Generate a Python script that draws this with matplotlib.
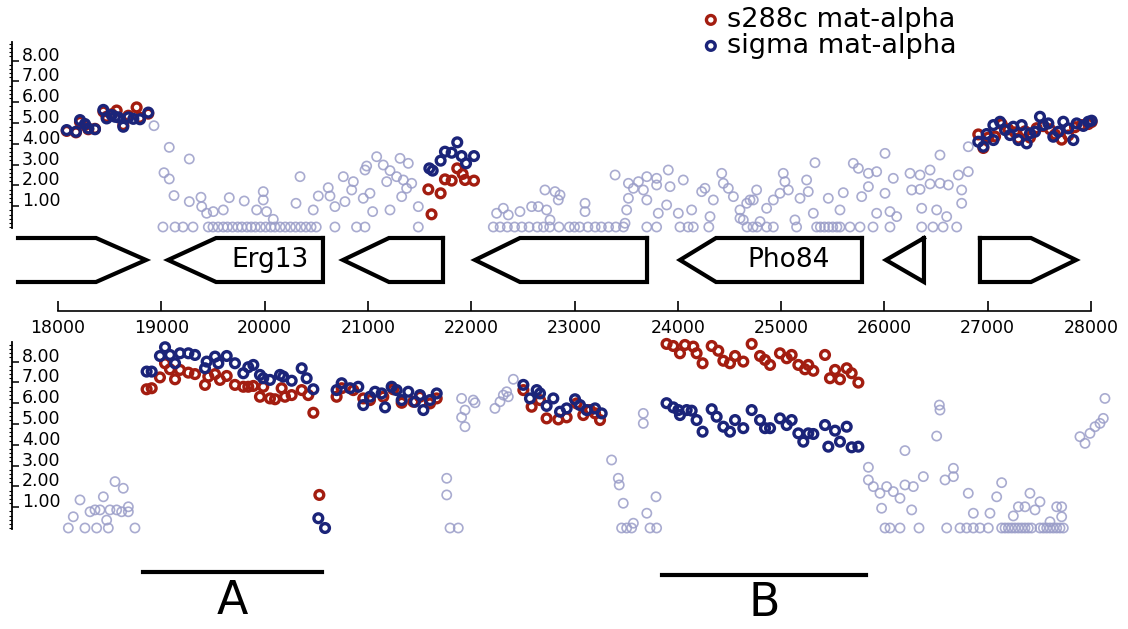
import numpy as np
import matplotlib
matplotlib.use('Agg')
import matplotlib.pyplot as plt
from matplotlib.ticker import FormatStrFormatter, MultipleLocator

# ---------------------------------------------------------------
# data (genome position, log signal)
# ---------------------------------------------------------------
top_grey_x = [18929, 19077, 19271, 19026, 19077, 19123, 19271, 19384, 19391, 19439,
              19503, 19600, 19658, 19803, 19923, 19987, 19987, 20019, 20084, 20304,
              20343, 20471, 20520, 20616, 20633, 20681, 20778, 20762, 20843, 20859,
              20955, 20972, 20988, 21020, 21046, 21085,
              21149, 21214, 21182, 21278, 21311, 21391, 21343, 21375, 21424, 21327, 21214, 21488,
              22714, 22811, 22860, 22843, 22246, 22311, 22359, 22472, 22585, 22650,
              22730, 22763, 23102, 23102, 23393, 23522, 23570, 23619, 23667, 23700,
              23522, 23700, 23795, 23908, 23925, 23795, 24053, 23505, 23489, 23892,
              23811, 24005, 24134, 24231, 24263, 24344, 24425, 24441, 24489, 24538,
              24602, 24602, 24699, 24312,
              26812, 26538, 26006, 25328, 25699, 25748, 25845, 25925, 26086, 26248,
              26345, 26442, 26264, 26345, 26442, 26538, 26619, 26716, 26812, 26748,
              26748, 26361, 26506, 26603, 26006, 25925, 26054, 26119, 25845, 25780,
              25602, 25570, 25457, 25312, 25247, 25263, 25183, 25134, 25021, 25037,
              25070, 24989, 24925, 24860, 24763, 24731, 24796, 24667, 24634]
top_grey_y = [4.87, 3.83, 3.27, 2.61, 2.31, 1.51, 1.22, 1.43, 0.98, 0.66,
              0.74, 0.82, 1.41, 1.25, 0.82, 1.70, 1.30, 0.74, 0.37, 1.14,
              2.42, 0.82, 1.49, 1.89, 1.49, 0.98, 1.22, 2.42, 1.78, 2.18,
              1.38, 2.74, 2.93, 1.62, 0.74, 3.38,
              2.98, 2.71, 2.18, 2.42, 3.30, 3.06, 2.26, 1.86, 2.10, 1.46, 0.82, 0.98,
              1.78, 1.70, 1.54, 1.30, 0.66, 0.90, 0.58, 0.74, 0.98, 0.98,
              0.82, 0.34, 1.14, 0.74, 2.50, 2.10, 1.86, 2.18, 1.78, 1.30,
              1.38, 2.42, 2.34, 2.74, 1.94, 2.02, 2.26, 0.82, 0.18, 1.06,
              0.66, 0.66, 0.82, 1.70, 1.86, 1.30, 2.58, 2.10, 1.86, 1.46,
              0.82, 0.42, 1.30, 0.50,
              3.86, 3.46, 3.54, 3.09, 3.06, 2.82, 2.58, 2.66, 2.34, 2.58,
              2.50, 2.74, 1.78, 1.81, 2.07, 2.10, 2.02, 2.50, 2.66, 1.78,
              1.14, 0.90, 0.82, 0.50, 1.62, 0.66, 0.74, 0.50, 1.94, 1.46,
              1.65, 0.82, 1.38, 0.66, 2.26, 1.70, 1.38, 0.34, 2.58, 2.18,
              1.78, 1.62, 1.30, 0.90, 1.78, 1.30, 0.26, 1.14, 0.34]
# grey points sitting on the floor (value 0)
top_floor_x = [19016, 19133, 19210, 19307, 19455, 19500, 19550, 19600, 19640, 19690,
               19740, 19780, 19830, 19870, 19910, 19960, 20010, 20060, 20100, 20150,
               20200, 20250, 20300, 20350, 20400, 20450, 20500, 20681, 20890, 20972, 21488,
               22214, 22280, 22350, 22420, 22490, 22560, 22640, 22700, 22760, 22850,
               22950, 23000, 23050, 23130, 23200, 23260, 23330, 23400, 23474, 23700,
               23795, 24021, 24100, 24150, 24300, 24670, 24767,
               24728, 24860, 24925, 25150, 25344, 25380, 25420, 25460, 25500, 25540,
               25570, 25667, 25764, 25890, 26054, 26361, 26470, 26568, 26700]
top_floor_y = [0.0] * len(top_floor_x)

top_red_x = [18084, 18174, 18213, 18261, 18293, 18358, 18439, 18471, 18520, 18568,
             18632, 18681, 18761, 18794, 18874,
             21585, 21616, 21704, 21746, 21811, 21865, 21917, 21940, 22027,
             26909, 26958, 27006, 27071, 27135, 27200, 27264, 27297, 27361, 27409,
             27474, 27538, 27603, 27652, 27716, 27780, 27845, 27910, 27974, 28006]
top_red_y = [4.62, 4.55, 5.05, 4.90, 4.70, 4.72, 5.55, 5.30, 5.42, 5.60,
             4.90, 5.35, 5.75, 5.25, 5.45,
             1.81, 0.61, 1.62, 2.29, 2.23, 2.82, 2.55, 2.26, 2.23,
             4.45, 3.80, 4.30, 4.35, 4.95, 4.70, 4.55, 4.25, 4.60, 4.30,
             4.75, 4.85, 4.70, 4.45, 4.20, 4.40, 4.80, 4.90, 4.95, 5.05]
top_blue_x = [18084, 18174, 18213, 18261, 18293, 18358, 18439, 18471, 18520, 18552,
              18584, 18632, 18681, 18729, 18794, 18874,
              21595, 21627, 21704, 21746, 21811, 21865, 21907, 21950, 22027,
              26909, 26958, 26990, 27055, 27055, 27119, 27168, 27216, 27248, 27297,
              27329, 27377, 27409, 27458, 27506, 27538, 27587, 27635, 27684, 27732,
              27780, 27829, 27861, 27926, 27974, 28006]
top_blue_y = [4.66, 4.58, 5.14, 4.95, 4.74, 4.70, 5.63, 5.22, 5.38, 5.30,
              5.27, 4.82, 5.27, 5.20, 5.18, 5.50,
              2.82, 2.71, 3.19, 3.62, 3.57, 4.07, 3.41, 3.06, 3.41,
              4.10, 3.86, 4.47, 4.18, 4.90, 5.06, 4.66, 4.42, 4.82, 4.18,
              4.90, 4.02, 4.50, 4.58, 5.30, 4.90, 4.98, 4.34, 4.58, 5.06,
              4.74, 4.18, 4.98, 4.86, 5.06, 5.11]

bot_grey_x = [18148, 18213, 18310, 18358, 18407, 18439, 18471, 18503, 18552, 18568,
              18616, 18632, 18681, 18681,
              21907, 22020, 22037, 21940, 21907, 21940, 21763, 21763,
              22230, 22279, 22311, 22343, 22359, 22408,
              23359, 23424, 23433, 23472, 23666, 23666, 23700, 23789, 23570,
              25845, 25845, 25893, 25957, 26022, 26086, 26151, 25973, 26199, 26280,
              26264, 26199, 26377, 26506, 26538, 26532, 26587, 26668, 26668, 26812,
              26861, 27022, 27087, 27135, 27248, 27297, 27361, 27409, 27458, 27506,
              27603, 27668, 27716, 27716, 28135, 27893, 27942, 27990, 28039, 28087, 28119]
bot_grey_y = [0.54, 1.35, 0.78, 0.87, 0.87, 1.50, 0.38, 0.87, 2.23, 0.87,
              0.78, 1.91, 1.02, 0.78,
              6.23, 6.15, 6.02, 5.67, 5.32, 4.87, 2.39, 1.59,
              5.75, 6.07, 6.39, 6.55, 6.31, 7.15,
              3.27, 2.39, 2.07, 1.19, 5.51, 5.03, 0.71, 1.50, 0.23,
              2.92, 2.31, 1.99, 1.67, 1.99, 1.75, 1.43, 0.95, 2.07, 1.99,
              0.87, 3.72, 2.47, 4.42, 5.67, 5.91, 2.31, 2.87, 2.47, 1.67,
              0.71, 0.71, 1.50, 2.18, 0.58, 1.02, 1.02, 1.67, 0.87, 1.26,
              0.30, 1.02, 0.54, 1.02, 6.23, 4.39, 4.07, 4.55, 4.87, 5.03, 5.27]
bot_floor_x = [18100, 18261, 18374, 18487, 18745, 21795, 21875, 23456, 23505, 23553,
               23731, 23795, 26006, 26054, 26151, 26335, 26603, 26732, 26796, 26861,
               26925, 27006, 27135, 27168, 27200, 27232, 27264, 27297, 27329, 27361,
               27393, 27425, 27506, 27539, 27571, 27603, 27635, 27668, 27700, 27732]
bot_floor_y = [0.0] * len(bot_floor_x)

bot_red_x = [18858, 18907, 18987, 19036, 19084, 19133, 19181, 19262, 19326, 19423,
             19455, 19520, 19568, 19633, 19713, 19794, 19842, 19891, 19955, 19987,
             20052, 20101, 20165, 20197, 20262, 20359, 20423, 20472, 20530,
             20697, 20746, 20859, 20955, 21020, 21149, 21246, 21327, 21440, 21504, 21601, 21666,
             22505, 22585, 22666, 22730, 22843, 22924, 23021, 23085, 23150, 23247, 23199,
             23891, 23956, 24021, 24069, 24150, 24182, 24240, 24328, 24392, 24441, 24505, 24554,
             24634, 24715, 24796, 24844, 24893, 24989, 25054, 25102, 25167, 25231,
             25263, 25312, 25425, 25473, 25522, 25570, 25635, 25683, 25748]
bot_red_y = [6.67, 6.72, 7.24, 7.92, 7.63, 7.15, 7.60, 7.47, 7.40, 6.88,
             7.28, 7.40, 7.12, 7.31, 6.88, 6.79, 6.79, 6.83, 6.31, 6.79,
             6.23, 6.19, 6.72, 6.31, 6.39, 6.63, 6.39, 5.54, 1.59,
             6.31, 6.72, 6.63, 6.23, 6.15, 6.31, 6.67, 6.02, 6.07, 6.31, 5.99, 6.23,
             6.63, 5.83, 6.15, 5.27, 5.22, 5.32, 5.99, 5.43, 5.67, 5.19, 5.51,
             8.85, 8.75, 8.40, 8.80, 8.72, 8.40, 7.92, 8.75, 8.52, 8.04, 7.92, 8.27,
             8.00, 8.85, 8.27, 8.08, 7.84, 8.40, 8.16, 8.32, 7.84, 7.63,
             7.84, 7.56, 8.32, 7.20, 7.60, 7.15, 7.68, 7.44, 6.99]
bot_blue_x = [18858, 18907, 18987, 19036, 19084, 19133, 19181, 19262, 19326, 19423,
              19439, 19520, 19552, 19633, 19713, 19794, 19842, 19891, 19955, 19987,
              20052, 20149, 20181, 20262, 20359, 20407, 20472, 20520, 20585,
              20697, 20746, 20827, 20907, 20955, 21020, 21069, 21133, 21166, 21230,
              21278, 21327, 21391, 21456, 21504, 21537, 21601, 21666,
              22505, 22569, 22634, 22666, 22730, 22795, 22860, 22924, 23005, 23053, 23118, 23199, 23263,
              23891, 23956, 24005, 24021, 24086, 24134, 24182, 24240, 24328, 24376, 24441, 24505, 24554,
              24634, 24715, 24796, 24844, 24893, 24989, 25054, 25102, 25167, 25215,
              25263, 25312, 25425, 25457, 25522, 25570, 25635, 25683, 25748]
bot_blue_y = [7.52, 7.52, 8.27, 8.69, 8.32, 7.92, 8.40, 8.40, 8.32, 7.68,
              8.00, 8.24, 7.92, 8.27, 7.92, 7.44, 7.73, 7.84, 7.36, 7.20,
              7.12, 7.36, 7.28, 7.08, 7.68, 7.20, 6.67, 0.47, 0.0,
              6.63, 6.96, 6.72, 6.79, 5.91, 6.31, 6.55, 6.47, 5.80, 6.79,
              6.63, 6.15, 6.55, 6.07, 6.39, 5.67, 6.15, 6.47,
              6.88, 6.23, 6.63, 6.47, 5.87, 6.23, 5.59, 5.75, 6.19, 5.91, 5.67, 5.75, 5.51,
              6.00, 5.80, 5.67, 5.43, 5.67, 5.64, 5.19, 4.63, 5.71, 5.35, 4.87, 4.63, 5.19,
              4.80, 5.67, 5.19, 4.80, 4.80, 5.27, 4.95, 5.19, 4.55, 4.15,
              4.55, 4.52, 4.95, 3.91, 4.68, 4.15, 4.87, 3.88, 3.91]

# genes (bp)
gene_start = [17613, 19065, 20759, 22037, 24021, 26015, 26925]
gene_end = [18852, 20565, 21727, 23702, 25783, 26383, 27855]
gene_strand = [1, -1, -1, -1, -1, -1, 1]
gene_head = [484, 465, 445, 435, 349, 368, 436]
gene_name = ['', 'Erg13', '', '', 'Pho84', '', '']

# regions marked under the plot
region_name = ['A', 'B']
region_start = [18823, 23847]
region_end = [20556, 25822]

ytick_vals = [1, 2, 3, 4, 5, 6, 7, 8]
xtick_vals = [18000, 19000, 20000, 21000, 22000, 23000, 24000, 25000, 26000, 27000, 28000]

RED = '#a31d10'
BLUE = '#1b2479'
GREY = '#9a9dc8'

#-----------------------------------------------------------------
# layout helpers (figure is 1128 x 629 px)
#-----------------------------------------------------------------
W, H = 1128, 629
PX0, PXK = 58, 0.1033   # pixel of 18000 bp, pixels per bp
UNIT = 20.8             # pixels per y unit


def px2x(p):
    return 18000 + (p - PX0) / PXK


def add_px_axes(fig, l, t, r, b):
    return fig.add_axes([l / W, 1 - b / H, (r - l) / W, (b - t) / H])


fig = plt.figure(figsize=(W / 100, H / 100), dpi=100)

# overlay for gene arrows and the A / B bars
ov = fig.add_axes([0, 0, 1, 1])
ov.set_xlim(px2x(0), px2x(W))
ov.set_ylim(H, 0)
ov.axis('off')

top_y, bot_y, mid_y = 238, 282, 260
for s, e, st, h, name in zip(gene_start, gene_end, gene_strand, gene_head, gene_name):
    if st > 0:
        xs = [s, e - h, e, e - h, s]
        ys = [top_y, top_y, mid_y, bot_y, bot_y]
        if s > px2x(20):
            xs.append(s)
            ys.append(top_y)
    else:
        xs = [e, s + h, s, s + h, e, e]
        ys = [top_y, top_y, mid_y, bot_y, bot_y, top_y]
    ov.plot(xs, ys, color='black', lw=3, solid_joinstyle='miter')
    if name:
        cx = (s + h + e) / 2 if st < 0 else (s + e - h) / 2
        ov.text(cx, mid_y, name, ha='center', va='center', fontsize=19)

for name, s, e, yb in zip(region_name, region_start, region_end, [572, 575]):
    ov.plot([s, e], [yb, yb], color='black', lw=3)
    ov.text((s + e) / 2, yb + 29, name, ha='center', va='center', fontsize=33)

# genome coordinate axis
mid = add_px_axes(fig, PX0, 310, 1091, 311)
mid.set_xlim(18000, 28000)
mid.set_ylim(0, 1)
mid.patch.set_visible(False)
for sp in ['top', 'left', 'right']:
    mid.spines[sp].set_visible(False)
mid.spines['bottom'].set_linewidth(1.2)
mid.set_yticks([])
mid.set_xticks(xtick_vals)
mid.tick_params(axis='x', direction='in', length=7, width=1.2, pad=6, labelsize=12.5)


def panel(t, b, y0px, grey_x, grey_y, floor_x, floor_y, red_x, red_y, blue_x, blue_y):
    ax = add_px_axes(fig, 12, t, 1110, b)
    ax.set_xlim(px2x(12), px2x(1110))
    ax.set_ylim((y0px - b) / UNIT, (y0px - t) / UNIT)
    ax.patch.set_visible(False)
    for sp in ['top', 'right', 'bottom']:
        ax.spines[sp].set_visible(False)
    ax.spines['left'].set_linewidth(1.3)
    ax.set_xticks([])
    ax.set_yticks(ytick_vals)
    ax.yaxis.set_major_formatter(FormatStrFormatter('%.2f'))
    ax.yaxis.set_minor_locator(MultipleLocator(0.2))
    ax.tick_params(axis='y', which='major', direction='in', length=5, width=1.1,
                   pad=-7, labelsize=12.5)
    ax.tick_params(axis='y', which='minor', direction='out', length=2.5, width=0.8)
    for lbl in ax.get_yticklabels():
        lbl.set_horizontalalignment('left')
        lbl.set_verticalalignment('baseline')
    ax.scatter(grey_x + floor_x, grey_y + floor_y, s=44, facecolors='none',
               edgecolors=GREY, linewidths=1.2, alpha=0.85, clip_on=False, zorder=2)
    r = ax.scatter(red_x, red_y, s=40, facecolors='none', edgecolors=RED,
                   linewidths=2.4, clip_on=False, zorder=3)
    bl = ax.scatter(blue_x, blue_y, s=40, facecolors='none', edgecolors=BLUE,
                    linewidths=2.4, clip_on=False, zorder=4)
    return r, bl


r, bl = panel(42, 228, 227, top_grey_x, top_grey_y, top_floor_x, top_floor_y,
              top_red_x, top_red_y, top_blue_x, top_blue_y)
panel(342, 529, 528, bot_grey_x, bot_grey_y, bot_floor_x, bot_floor_y,
      bot_red_x, bot_red_y, bot_blue_x, bot_blue_y)

fig.legend([r, bl], ['s288c mat-alpha', 'sigma mat-alpha'], loc='upper left',
           bbox_to_anchor=(700 / W, 1 - 7 / H), frameon=False, fontsize=19.5,
           borderpad=0, borderaxespad=0, handlelength=0.8, handletextpad=0.2,
           labelspacing=0.0, scatterpoints=1)

fig.savefig('out.png', dpi=100)
